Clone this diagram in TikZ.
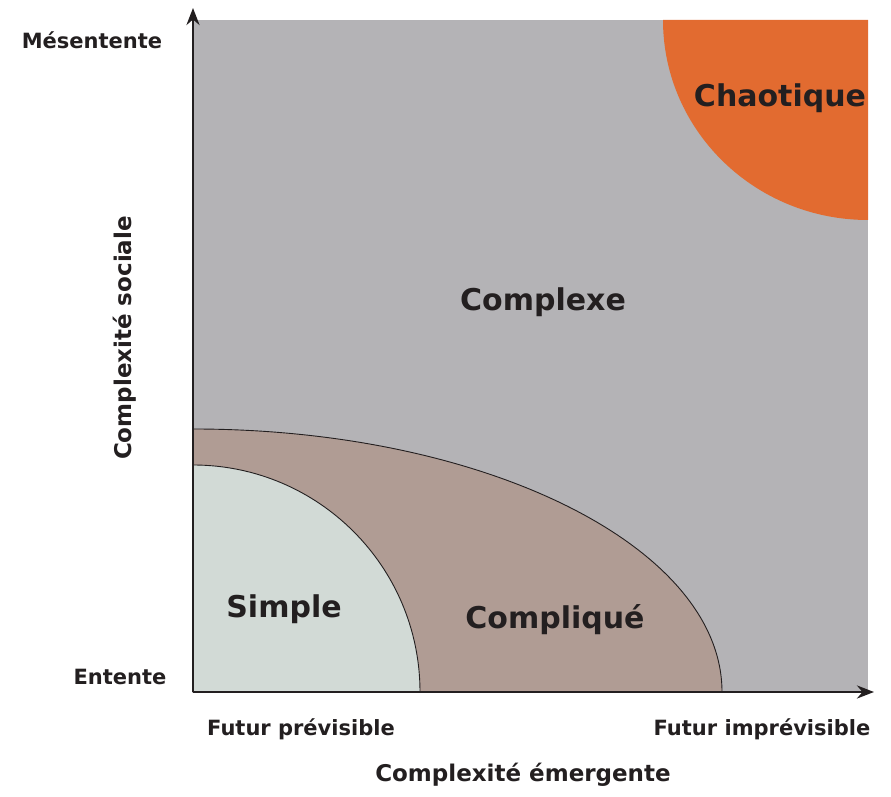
\documentclass[tikz,border=0pt]{standalone}
\usepackage{fontspec}
\setmainfont{DejaVu Sans}
\usetikzlibrary{arrows.meta}
\definecolor{zonegray}{RGB}{180,179,182}
\definecolor{zoneorange}{RGB}{226,107,48}
\definecolor{zonebrown}{RGB}{176,156,148}
\definecolor{zonelight}{RGB}{210,218,214}
\definecolor{inkdark}{RGB}{35,31,32}
\begin{document}
\begin{tikzpicture}[x=1pt,y=1pt,
  axis/.style={line width=2.8pt,draw=inkdark,-{Stealth[length=17pt,width=13pt]}},
  rim/.style={draw=inkdark,line width=0.9pt},
  zone/.style={font=\fontsize{30}{36}\selectfont\bfseries,text=inkdark},
  tick/.style={font=\fontsize{21}{25}\selectfont\bfseries,text=inkdark},
  axistitle/.style={font=\fontsize{23}{27}\selectfont\bfseries,text=inkdark}]
\useasboundingbox (-193,-105) rectangle (698,692);
\coordinate (O) at (0,0);
\coordinate (ytop) at (0,684);
\coordinate (xend) at (681,0);
% zones
\fill[zonegray] (O) rectangle (675,672);
\fill[zoneorange] (675,672) -- (470,672) arc[start angle=180,end angle=270,x radius=205,y radius=200] -- cycle;
\filldraw[fill=zonebrown,rim] (O) -- (0,263) arc[start angle=90,end angle=0,x radius=529,y radius=263] -- cycle;
\filldraw[fill=zonelight,rim] (O) -- (0,227) arc[start angle=90,end angle=0,radius=227] -- cycle;
% axes
\draw[axis] (O) -- (ytop);
\draw[axis] (O) -- (xend);
% labels
\node[zone] (chaos) at (587,594) {Chaotique};
\node[zone] (complexe) at (350,390) {Complexe};
\node[zone] (simple) at (91,83) {Simple};
\node[zone] (complique) at (362,72) {Compliqué};
\node[tick] (mes) at (-101,652) {Mésentente};
\node[tick] (ent) at (-73,15) {Entente};
\node[tick] (prev) at (108,-37) {Futur prévisible};
\node[tick] (imprev) at (569,-37) {Futur imprévisible};
\node[axistitle,rotate=90] (sociale) at (-68,354) {Complexité sociale};
\node[axistitle] (emerg) at (330,-83) {Complexité émergente};
\end{tikzpicture}
\end{document}
